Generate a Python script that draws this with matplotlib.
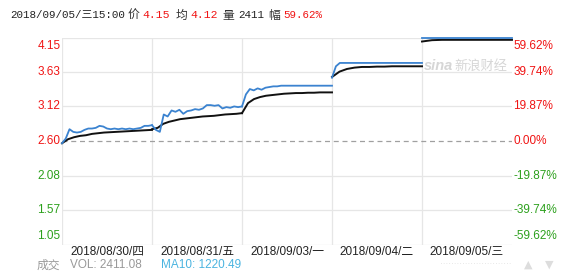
import matplotlib
matplotlib.use('Agg')
import numpy as np
import matplotlib.pyplot as plt

plt.rcParams['font.family'] = ['Liberation Sans', 'Noto Sans CJK SC', 'DejaVu Sans']

# ---- data ----
days = ['2018/08/30/四', '2018/08/31/五', '2018/09/03/一', '2018/09/04/二', '2018/09/05/三']
prev_close = 2.60
price_levels = [4.15, 3.63, 3.12, 2.60, 2.08, 1.57, 1.05]
pct_labels = ['59.62%', '39.74%', '19.87%', '0.00%', '-19.87%', '-39.74%', '-59.62%']

price_d1 = [2.57, 2.64, 2.78, 2.74, 2.73, 2.74, 2.77, 2.79, 2.79, 2.80, 2.83, 2.82, 2.79, 2.78,
            2.79, 2.78, 2.79, 2.78, 2.79, 2.78, 2.79, 2.80, 2.83, 2.83, 2.84]
price_d2 = [2.84, 2.77, 2.74, 3.00, 2.97, 3.06, 3.04, 3.07, 3.01, 3.05, 3.06, 3.08, 3.07, 3.09,
            3.14, 3.14, 3.13, 3.14, 3.09, 3.11, 3.10, 3.12, 3.11, 3.12]
price_d3 = [3.12, 3.30, 3.38, 3.36, 3.39, 3.37, 3.40, 3.41, 3.42, 3.42, 3.43, 3.43, 3.43, 3.43,
            3.43, 3.43, 3.43, 3.43, 3.43, 3.43, 3.43, 3.43, 3.43, 3.43]
price_d4 = [3.55, 3.72, 3.77, 3.77, 3.77, 3.77, 3.77, 3.77, 3.77, 3.77, 3.77, 3.77, 3.77, 3.77,
            3.77, 3.77, 3.77, 3.77, 3.77, 3.77, 3.77, 3.77, 3.77, 3.77]
price_d5 = [4.15, 4.15, 4.15, 4.15, 4.15, 4.15, 4.15, 4.15, 4.15, 4.15, 4.15, 4.15]

avg_d1 = [2.57, 2.63, 2.66, 2.68, 2.69, 2.71, 2.72, 2.73, 2.735, 2.74, 2.745, 2.75, 2.755,
          2.76, 2.765, 2.77]
avg_d2 = [2.78, 2.80, 2.86, 2.89, 2.91, 2.93, 2.94, 2.95, 2.96, 2.97, 2.975, 2.98, 2.99,
          3.00, 3.005, 3.01, 3.02]
avg_d3 = [3.02, 3.17, 3.23, 3.26, 3.28, 3.29, 3.30, 3.31, 3.315, 3.32, 3.32, 3.325, 3.325,
          3.33, 3.33, 3.33]
avg_d4 = [3.56, 3.64, 3.68, 3.70, 3.71, 3.71, 3.715, 3.715, 3.72, 3.72, 3.72, 3.72, 3.72]
avg_d5 = [4.09, 4.11, 4.115, 4.115, 4.115, 4.115, 4.115, 4.115, 4.115, 4.115]

prices = [price_d1, price_d2, price_d3, price_d4, price_d5]
avgs = [avg_d1, avg_d2, avg_d3, avg_d4, avg_d5]

RED = '#f01414'
GREEN = '#2ca01c'
GRID = '#e6e6e6'

W, H = 561, 271
fig = plt.figure(figsize=(W / 100, H / 100), dpi=100)
ax = fig.add_axes([62 / W, 26 / H, 450 / W, 207.5 / H])
ax.set_xlim(0, len(days))
ax.set_ylim(price_levels[-1], price_levels[0])
for s in ax.spines.values():
    s.set_visible(False)
ax.set_xticks([])
ax.set_yticks([])

# grid
for lv in price_levels:
    if lv == prev_close:
        ax.axhline(lv, color='#a0a0a0', lw=0.9, ls=(0, (4, 3)), zorder=1)
    else:
        ax.axhline(lv, color=GRID, lw=0.9, zorder=0)
for d in range(len(days)):
    ax.axvline(d, color=GRID, lw=0.9, zorder=0)

# lines, one segment per trading day
for d in range(len(days)):
    xp = np.linspace(d, d + 1, len(prices[d]))
    xa = np.linspace(d, d + 1, len(avgs[d]))
    ax.plot(xa, avgs[d], color='#111111', lw=1.4, zorder=3, clip_on=False)
    ax.plot(xp, prices[d], color='#3b83d0', lw=1.3, zorder=4, clip_on=False)

# y labels both sides
n = len(price_levels)
for i, (lv, pl) in enumerate(zip(price_levels, pct_labels)):
    col = RED if lv >= prev_close else GREEN
    va = 'top' if i == 0 else ('bottom' if i == n - 1 else 'center')
    off = -2 if i == 0 else (2 if i == n - 1 else 0)
    ax.annotate('%.2f' % lv, (0, lv), xytext=(-1, off), textcoords='offset points',
                ha='right', va=va, color=col, fontsize=8.5, annotation_clip=False)
    ax.annotate(pl, (len(days), lv), xytext=(1, off), textcoords='offset points',
                ha='left', va=va, color=col, fontsize=8.5, annotation_clip=False)

# x labels
for d, lab in enumerate(days):
    ax.annotate(lab, (d + 0.5, price_levels[-1]), xytext=(0, -4.8), textcoords='offset points',
                ha='center', va='center', color='#222222', fontsize=8.5, annotation_clip=False)

# watermark
fig.text(424 / W, 1 - 66 / H, 'sina', color='#d6d6d6', fontsize=10.5, fontweight='bold',
         style='italic', va='center', ha='left')
fig.text(454 / W, 1 - 66 / H, '新浪财经', color='#d6d6d6', fontsize=9.5, style='italic',
         va='center', ha='left', family=['Noto Sans CJK SC', 'DejaVu Sans'])

# header
mono = ['Liberation Mono', 'Noto Sans CJK SC', 'DejaVu Sans']
cjk = ['Noto Sans CJK SC', 'DejaVu Sans']
hy = 1 - 15 / H
header = [(10, '2018/09/05/三15:00', '#222222', mono, 7.8),
          (128, '价', '#333333', cjk, 8.5), (142, '4.15', RED, mono, 8.2),
          (176, '均', '#333333', cjk, 8.5), (190, '4.12', RED, mono, 8.2),
          (222, '量', '#333333', cjk, 8.5), (238, '2411', '#222222', mono, 7.8),
          (268, '幅', '#333333', cjk, 8.5), (283, '59.62%', RED, mono, 7.8)]
for x, t, c, fam, fs in header:
    fig.text(x / W, hy, t, color=c, fontsize=fs, va='center', ha='left', family=fam)

# footer
fy = 1 - 265 / H
fig.text(37 / W, fy, '成交', color='#999999', fontsize=8.5, va='center', ha='left', family=cjk)
fig.text(70 / W, fy, 'VOL: 2411.08', color='#999999', fontsize=8.5, va='center', ha='left')
fig.text(161 / W, fy, 'MA10: 1220.49', color='#4ab4e0', fontsize=8.5, va='center', ha='left')
fig.text(440 / W, fy, '··························', color='#dddddd', fontsize=6, va='center', ha='left')
fig.text(524 / W, fy, '▲', color='#dddddd', fontsize=8, va='center', ha='left', family='DejaVu Sans')
fig.text(545 / W, fy, '▼', color='#dddddd', fontsize=8, va='center', ha='left', family='DejaVu Sans')

fig.savefig('out.png', dpi=100, facecolor='white')
